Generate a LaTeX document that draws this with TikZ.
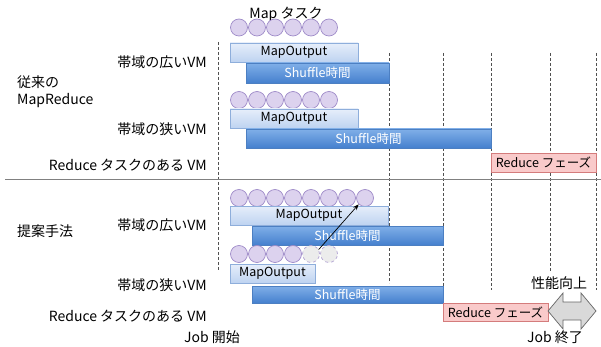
\documentclass[tikz,border=0pt]{standalone}
\usepackage{fontspec}
\setmainfont{Noto Sans CJK JP}
\usetikzlibrary{shadows,arrows.meta}
\definecolor{circF}{HTML}{DCD2EE}
\definecolor{circB}{HTML}{9E8BC8}
\definecolor{moT}{HTML}{E6EEFA}
\definecolor{moBt}{HTML}{BED3F1}
\definecolor{moB}{HTML}{8EAEDB}
\definecolor{shT}{HTML}{80AFE8}
\definecolor{shBt}{HTML}{4580CE}
\definecolor{shB}{HTML}{4C7FC2}
\definecolor{rdF}{HTML}{F9CACA}
\definecolor{rdB}{HTML}{D47C7C}
\definecolor{guide}{HTML}{505050}
\tikzset{
  circ/.style={circle, draw=circB, fill=circF, minimum size=17pt, inner sep=0pt, line width=0.7pt},
  dcirc/.style={circle, draw=circB!80, dashed, fill=gray!15, minimum size=17pt, inner sep=0pt, line width=0.7pt},
  box/.style={anchor=north west, inner sep=0pt, outer sep=0pt, line width=0.6pt, font=\fontsize{12.5}{13}\selectfont,
     drop shadow={shadow xshift=0.8pt, shadow yshift=-1pt, opacity=0.25}},
  mo/.style={box, draw=moB, top color=moT, bottom color=moBt, text=black},
  sh/.style={box, draw=shB, top color=shT, bottom color=shBt, text=white},
  rd/.style={box, draw=rdB, fill=rdF, text=black},
  lab/.style={font=\fontsize{14}{15}\selectfont, inner sep=0pt},
  guideline/.style={draw=guide, line width=1pt, dash pattern=on 3pt off 2pt},
}
\begin{document}
\begin{tikzpicture}[x=1pt,y=-1pt]
\useasboundingbox (0,0) rectangle (601,347);
% guide lines
\draw[guideline] (218,42) -- (218,270);
\draw[guideline] (389,53) -- (389,283);
\draw[guideline] (443,53) -- (443,287);
\draw[guideline] (491,53) -- (491,290);
\draw[guideline] (550,53) -- (550,272);
\draw[guideline] (596,53) -- (596,290);
\draw[gray, line width=1pt] (5,180) -- (601,180);

% --- top section ---
\node[lab] (maptask) at (286,14) {Map タスク};
\foreach \k in {0,...,5} \node[circ] (a\k) at (239+18*\k,27.5) {};
\node[mo, minimum width=128pt, minimum height=19pt] (mo1) at (230,43) {MapOutput};
\node[sh, minimum width=143pt, minimum height=20pt] (sh1) at (246,63) {Shuffle時間};
\foreach \k in {0,...,5} \node[circ] (b\k) at (239+18*\k,100) {};
\node[mo, minimum width=128pt, minimum height=19pt] (mo2) at (230,109) {MapOutput};
\node[sh, minimum width=245pt, minimum height=19pt] (sh2) at (246,129) {Shuffle時間};
\node[rd, minimum width=105pt, minimum height=19pt] (rd1) at (491,153) {Reduce フェーズ};

\node[lab, anchor=east] (l1) at (207,62) {帯域の広いVM};
\node[lab, anchor=west] (l2) at (17,82) {従来の};
\node[lab, anchor=west] (l3) at (17,101) {MapReduce};
\node[lab, anchor=east] (l4) at (207,129) {帯域の狭いVM};
\node[lab, anchor=east] (l5) at (207,165) {Reduce タスクのある VM};

% --- bottom section ---
\foreach \k in {0,...,7} \node[circ] (c\k) at (239+18*\k,198) {};
\node[mo, minimum width=158pt, minimum height=19pt] (mo3) at (230,206) {MapOutput};
\node[sh, minimum width=191pt, minimum height=19pt] (sh3) at (252,226) {Shuffle時間};
\foreach \k in {0,...,3} \node[circ] (d\k) at (239+18*\k,254) {};
\node[dcirc] (d4) at (311,254) {};
\node[dcirc] (d5) at (329,254) {};
\node[mo, minimum width=85pt, minimum height=19pt] (mo4) at (230,264) {MapOutput};
\node[sh, minimum width=191pt, minimum height=17pt] (sh4) at (252,286) {Shuffle時間};
\node[rd, minimum width=105pt, minimum height=18pt] (rd2) at (443,303) {Reduce フェーズ};
\draw[-{Stealth[length=6pt,width=4.5pt]}, line width=0.7pt] (d4.30) -- (c7.225);

\draw[draw=gray!80!black, fill=gray!30, line width=0.7pt]
  (548,311) -- (563,293) -- (563,302) -- (581,302) -- (581,293) -- (596,311)
  -- (581,329) -- (581,320) -- (563,320) -- (563,329) -- cycle;

\node[lab, anchor=west] (m1) at (17,231) {提案手法};
\node[lab, anchor=east] (m2) at (207,225) {帯域の広いVM};
\node[lab, anchor=east] (m3) at (207,285) {帯域の狭いVM};
\node[lab, anchor=east] (m4) at (207,316) {Reduce タスクのある VM};
\node[lab] (js) at (212,337) {Job 開始};
\node[lab] (up) at (559,283) {性能向上};
\node[lab] (je) at (555,337) {Job 終了};
\end{tikzpicture}
\end{document}
